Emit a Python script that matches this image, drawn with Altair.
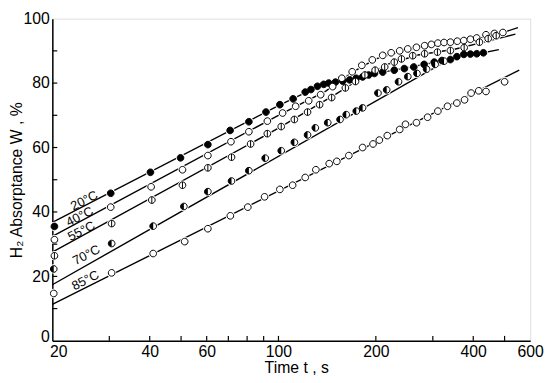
import altair as alt
import pandas as pd

series = ["20°C", "40°C", "55°C", "70°C", "85°C"]

# measured points (time s, absorptance %)
t20 = [20.3, 30.3, 40.2, 49.8, 60.5, 70.9, 81, 91.5, 101, 111, 121, 126, 132, 138, 143, 150, 158, 166, 174,
       182, 190, 198, 210, 228, 245, 262, 282, 303, 320, 340, 356, 374, 392, 410, 430]
w20 = [35.5, 45.8, 52.3, 56.8, 60.9, 65.3, 68.0, 71.0, 73.3, 75.1, 77.2, 78.0, 79.0, 79.6, 80.0, 80.3, 80.6, 81.0, 81.5,
       81.9, 82.5, 83.0, 83.4, 84.0, 84.5, 85.0, 85.8, 86.5, 87.0, 87.3, 88.2, 88.9, 89.0, 89.1, 89.4]

t40 = [20.3, 30.3, 40.4, 50.5, 60.5, 71.3, 81, 92.4, 103, 113, 124, 135, 147, 157, 169, 181, 195, 210, 223,
       237, 251, 267, 283, 297, 311, 325, 340, 357, 374, 392, 410, 438, 465, 494]
w40 = [31.4, 41.5, 47.8, 53.1, 57.5, 61.8, 64.9, 68.2, 70.7, 72.8, 74.5, 76.4, 78.9, 81.5, 83.5, 85.5, 87.2, 88.6, 89.4,
       90.0, 90.6, 91.1, 91.6, 92.0, 92.4, 92.6, 92.7, 93.0, 93.2, 93.6, 94.0, 95.0, 95.4, 95.7]

t55 = [20.3, 30.5, 40.6, 50.5, 60.5, 71.6, 82, 92.4, 102, 112, 123, 134, 146, 161, 173, 185, 199, 213, 228,
       240, 260, 283, 310, 340, 375, 418, 445, 471]
w55 = [26.4, 36.4, 43.7, 48.3, 53.7, 57.0, 61.1, 64.3, 66.5, 68.7, 71.0, 73.3, 75.5, 78.5, 80.5, 82.5, 84.0, 85.0, 86.5,
       87.5, 88.5, 89.1, 89.6, 90.1, 91.0, 92.7, 93.8, 94.7]

t70 = [20.2, 30.5, 41, 51, 60.5, 71.6, 81, 91, 102, 112, 123, 130, 142, 155, 162, 174, 182, 203, 216, 235,
       251, 268, 287, 305, 325]
w70 = [22.3, 30.2, 35.6, 41.7, 46.3, 49.6, 52.8, 56.7, 59.0, 61.6, 63.9, 66.1, 67.7, 68.7, 70.2, 71.3, 72.3, 76.9, 77.9, 80.4,
       82.0, 83.0, 84.3, 85.8, 86.8]

t85 = [20.2, 30.5, 41, 51.3, 60.5, 71, 80.4, 90.6, 101, 110.6, 121, 130.5, 143.5, 151.5, 165, 182, 196, 205, 217,
       237, 247, 267, 289, 311, 333, 356, 376, 394, 416, 438, 500]
w85 = [14.7, 21.1, 27.1, 30.8, 34.8, 38.8, 41.5, 44.7, 47.0, 48.3, 50.7, 53.1, 55.0, 55.7, 57.5, 60.0, 61.1, 62.3, 63.7,
       65.6, 67.2, 67.7, 69.4, 71.3, 72.8, 73.8, 74.8, 76.9, 77.6, 77.4, 80.4]

# drawn curves through the data
lt20 = [20, 100, 130, 160, 200, 250, 300, 350, 400, 480]
lw20 = [36.8, 73.0, 78.5, 81.0, 83.0, 84.8, 86.3, 87.6, 88.8, 90.4]
lt40 = [20, 100, 140, 170, 200, 250, 300, 400, 480, 550]
lw40 = [32.4, 70.0, 77.5, 83.5, 87.5, 90.4, 91.8, 93.5, 95.3, 97.2]
lt55 = [20, 100, 150, 180, 220, 270, 350, 450, 540]
lw55 = [27.5, 66.0, 76.5, 81.5, 86.0, 88.7, 90.5, 93.2, 95.2]
lt70 = [20, 330]
lw70 = [17.4, 86.8]
lt85 = [20, 555]
lw85 = [11.3, 84.0]

# series labels (position in data units)
lab_t = [25.1, 24.3, 24.6, 25.5, 25.3]
lab_w = [43.5, 38.5, 34.0, 26.6, 18.7]

x_labels = [20, 40, 60, 100, 200, 400, 600]
x_ticks = [30, 40, 50, 60, 70, 80, 90, 100, 200, 300, 400, 500]
y_labels = [0, 20, 40, 60, 80, 100]
y_ticks = [10, 20, 30, 40, 50, 60, 70, 80, 90]

pts = pd.concat([pd.DataFrame({"t": t, "w": w, "s": s}) for t, w, s in
                 zip([t20, t40, t55, t70, t85], [w20, w40, w55, w70, w85], series)])
lines = pd.concat([pd.DataFrame({"t": t, "w": w, "s": s}) for t, w, s in
                   zip([lt20, lt40, lt55, lt70, lt85], [lw20, lw40, lw55, lw70, lw85], series)])
labs = pd.DataFrame({"t": lab_t, "w": lab_w, "s": series})

W, H = 485, 327
FONT = "Liberation Sans"
xs = alt.Scale(type="log", domain=[20, 600], nice=False)
ys = alt.Scale(domain=[0, 100], nice=False)

CIRC = "M1,0 A1,1 0 1,1 -1,0 A1,1 0 1,1 1,0 Z"
CIRC_BAR = CIRC + " M0,-1 L0,1"
HALF = "M0,-1 A1,1 0 0,0 0,1 Z"
MSIZE = 46

line_layer = alt.Chart(lines).mark_line(color="black", strokeWidth=1.4).encode(
    x=alt.X("t:Q", scale=xs, axis=alt.Axis(
        values=x_labels, format="d", ticks=False, grid=False, labelFlush=False,
        labelOffset={"condition": {"test": "datum.value == 20", "value": 6}, "value": 0},
        labelFont=FONT, labelFontSize=16, labelColor="black", labelPadding=3,
        domainColor="black", domainWidth=1.5,
        title="Time  t ,  s", titleFont=FONT, titleFontSize=16, titleFontWeight="normal",
        titleColor="black", titleX=W / 2 + 5, titleY=19, titleBaseline="top")),
    y=alt.Y("w:Q", scale=ys, axis=alt.Axis(
        values=y_labels, ticks=False, grid=False, labelFlush=False,
        labelOffset={"condition": {"test": "datum.value == 0", "value": -4}, "value": 0},
        labelFont=FONT, labelFontSize=16, labelColor="black", labelPadding=3,
        domainColor="black", domainWidth=1.5,
        title="H₂ Absorptance  W ,  %", titleFont=FONT, titleFontSize=16, titleFontWeight="normal",
        titleColor="black", titleAngle=270, titleX=-28, titleY=H / 2, titleBaseline="bottom")),
    detail="s:N",
)

halo = alt.Chart(pts).mark_point(filled=True, color="white", size=90, shape="circle", opacity=1).encode(
    x=alt.X("t:Q", scale=xs), y=alt.Y("w:Q", scale=ys))

markers = alt.Chart(pts).mark_point(filled=True, stroke="black", strokeWidth=1, size=MSIZE, opacity=1).encode(
    x=alt.X("t:Q", scale=xs), y=alt.Y("w:Q", scale=ys),
    shape=alt.Shape("s:N", scale=alt.Scale(domain=series, range=[CIRC, CIRC, CIRC_BAR, CIRC, CIRC]), legend=None),
    fill=alt.Fill("s:N", scale=alt.Scale(domain=series, range=["black", "white", "white", "white", "white"]), legend=None),
)

half = alt.Chart(pts).transform_filter(alt.datum.s == "70°C").mark_point(
    filled=True, color="black", size=MSIZE, shape=HALF, opacity=1).encode(
    x=alt.X("t:Q", scale=xs), y=alt.Y("w:Q", scale=ys))

ytick = alt.Chart(pd.DataFrame({"v": y_ticks})).mark_rule(color="black", strokeWidth=1.2).encode(
    y=alt.Y("v:Q", scale=ys), x=alt.value(0), x2=alt.value(5))
xtick = alt.Chart(pd.DataFrame({"v": x_ticks})).mark_rule(color="black", strokeWidth=1.2).encode(
    x=alt.X("v:Q", scale=xs), y=alt.value(H), y2=alt.value(H - 5))

labels = alt.Chart(labs).mark_text(angle=333, font=FONT, fontSize=13, color="black",
                                   align="center", baseline="middle").encode(
    x=alt.X("t:Q", scale=xs), y=alt.Y("w:Q", scale=ys), text="s:N")

chart = alt.layer(line_layer, halo, markers, half, ytick, xtick, labels).properties(
    width=W, height=H,
    autosize=alt.AutoSizeParams(type="none"),
    padding={"left": 45, "top": 8, "right": 14, "bottom": 40},
).configure_view(stroke="black", strokeWidth=1.5).configure(background="white")

chart.save("out.html", embed_options={"renderer": "svg", "actions": False})
